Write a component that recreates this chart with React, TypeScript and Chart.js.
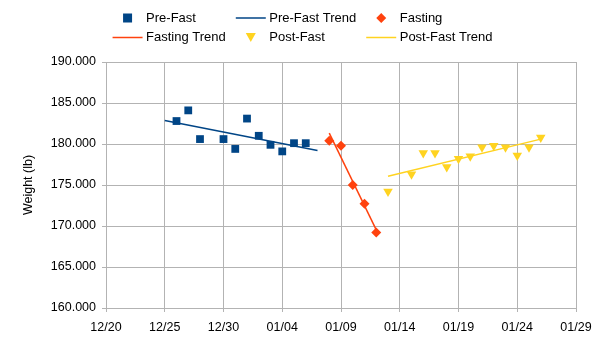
import React, { useEffect, useRef } from 'react';
import { Chart, registerables } from 'chart.js';

Chart.register(...registerables);

// ---------- data ----------
const xTickLabels = ['12/20', '12/25', '12/30', '01/04', '01/09', '01/14', '01/19', '01/24', '01/29'];
const axisStartDate = '12/20';
const axisEndDate = '01/29';

const preFastDates = ['12/26', '12/27', '12/28', '12/30', '12/31', '01/01', '01/02', '01/03', '01/04', '01/05', '01/06'];
const preFastWeights = [182.8, 184.1, 180.6, 180.6, 179.4, 183.1, 181.0, 179.9, 179.1, 180.1, 180.1];
const preFastTrendSpan = ['12/25', '01/07'];

const fastingDates = ['01/08', '01/09', '01/10', '01/11', '01/12'];
const fastingWeights = [180.4, 179.8, 175.0, 172.7, 169.2];
const fastingTrendSpan = ['01/08', '01/12'];

const postFastDates = ['01/13', '01/15', '01/16', '01/17', '01/18', '01/19', '01/20', '01/21', '01/22', '01/23', '01/24', '01/25', '01/26'];
const postFastWeights = [174.2, 176.3, 178.9, 178.9, 177.2, 178.2, 178.5, 179.6, 179.8, 179.6, 178.6, 179.6, 180.8];
const postFastTrendSpan = ['01/13', '01/26'];

const yMin = 160;
const yMax = 190;
const yStep = 5;

// ---------- helpers ----------
const FONT = "'Liberation Sans', Arial, sans-serif";
const BLUE = '#004586';
const ORANGE = '#ff420e';
const YELLOW = '#ffd320';
const GRID = '#b3b3b3';

function dayIndex(mmdd: string): number {
  const [m, d] = mmdd.split('/').map((s) => parseInt(s, 10));
  const year = m === 12 ? 2023 : 2024;
  const base = Date.UTC(2023, 11, 20);
  return Math.round((Date.UTC(year, m - 1, d) - base) / 86400000);
}

function points(dates: string[], values: number[]) {
  return dates.map((d, i) => ({ x: dayIndex(d), y: values[i] }));
}

function trend(dates: string[], values: number[], span: string[]) {
  const xs = dates.map(dayIndex);
  const n = xs.length;
  const mx = xs.reduce((a, b) => a + b, 0) / n;
  const my = values.reduce((a, b) => a + b, 0) / n;
  let sxy = 0;
  let sxx = 0;
  for (let i = 0; i < n; i++) {
    sxy += (xs[i] - mx) * (values[i] - my);
    sxx += (xs[i] - mx) * (xs[i] - mx);
  }
  const slope = sxy / sxx;
  const icpt = my - slope * mx;
  return span.map((s) => {
    const x = dayIndex(s);
    return { x, y: icpt + slope * x };
  });
}

// ---------- legend plugin ----------
const gridLegend = {
  id: 'gridLegend',
  afterDraw(chart: any) {
    const ctx = chart.ctx as CanvasRenderingContext2D;
    const datasets = chart.data.datasets as any[];
    ctx.save();
    ctx.font = `13px ${FONT}`;
    const cols = 3;
    const boxW = 30;
    const textGap = 3.5;
    const colGap = 10;
    const widths = [0, 0, 0];
    datasets.forEach((ds, i) => {
      const c = i % cols;
      widths[c] = Math.max(widths[c], boxW + textGap + ctx.measureText(ds.label).width);
    });
    const total = widths.reduce((a, b) => a + b, 0) + colGap * (cols - 1);
    const startX = (chart.width - total) / 2;
    const colX: number[] = [];
    let acc = startX;
    for (let c = 0; c < cols; c++) {
      colX.push(acc);
      acc += widths[c] + colGap;
    }
    const firstRowY = 18;
    const rowH = 19.5;
    datasets.forEach((ds, i) => {
      const c = i % cols;
      const r = Math.floor(i / cols);
      const x = colX[c];
      const cy = firstRowY + r * rowH;
      const cx = x + boxW / 2;
      const kind = ds.legendKind;
      ctx.fillStyle = ds.legendColor;
      ctx.strokeStyle = ds.legendColor;
      if (kind === 'line') {
        ctx.lineWidth = 1.5;
        ctx.beginPath();
        ctx.moveTo(x, cy);
        ctx.lineTo(x + boxW, cy);
        ctx.stroke();
      } else if (kind === 'rect') {
        ctx.fillRect(cx - 4.5, cy - 4.5, 9, 9);
      } else if (kind === 'diamond') {
        ctx.beginPath();
        ctx.moveTo(cx, cy - 5);
        ctx.lineTo(cx + 5, cy);
        ctx.lineTo(cx, cy + 5);
        ctx.lineTo(cx - 5, cy);
        ctx.closePath();
        ctx.fill();
      } else if (kind === 'triangleDown') {
        ctx.beginPath();
        ctx.moveTo(cx - 5, cy - 4.5);
        ctx.lineTo(cx + 5, cy - 4.5);
        ctx.lineTo(cx, cy + 4.5);
        ctx.closePath();
        ctx.fill();
      }
      ctx.fillStyle = '#000';
      ctx.textAlign = 'left';
      ctx.textBaseline = 'middle';
      ctx.fillText(ds.label, x + boxW + textGap, cy);
    });
    ctx.restore();
  },
};

export default function App() {
  const ref = useRef<HTMLCanvasElement | null>(null);

  useEffect(() => {
    if (!ref.current) return;
    const chart = new Chart(ref.current, {
      type: 'scatter',
      data: {
        datasets: [
          {
            label: 'Pre-Fast',
            data: points(preFastDates, preFastWeights),
            backgroundColor: BLUE,
            borderColor: BLUE,
            pointStyle: 'rect',
            pointRadius: 5.5,
            pointBorderWidth: 0,
            legendKind: 'rect',
            legendColor: BLUE,
          } as any,
          {
            label: 'Pre-Fast Trend',
            data: trend(preFastDates, preFastWeights, preFastTrendSpan),
            showLine: true,
            borderColor: BLUE,
            borderWidth: 1.5,
            pointRadius: 0,
            legendKind: 'line',
            legendColor: BLUE,
          } as any,
          {
            label: 'Fasting',
            data: points(fastingDates, fastingWeights),
            backgroundColor: ORANGE,
            borderColor: ORANGE,
            pointStyle: 'rectRot',
            pointRadius: 5,
            pointBorderWidth: 0,
            legendKind: 'diamond',
            legendColor: ORANGE,
          } as any,
          {
            label: 'Fasting Trend',
            data: trend(fastingDates, fastingWeights, fastingTrendSpan),
            showLine: true,
            borderColor: ORANGE,
            borderWidth: 1.5,
            pointRadius: 0,
            legendKind: 'line',
            legendColor: ORANGE,
          } as any,
          {
            label: 'Post-Fast',
            data: points(postFastDates, postFastWeights),
            backgroundColor: YELLOW,
            borderColor: YELLOW,
            pointStyle: 'triangle',
            rotation: 180,
            pointRadius: 5.5,
            pointBorderWidth: 0,
            legendKind: 'triangleDown',
            legendColor: YELLOW,
          } as any,
          {
            label: 'Post-Fast Trend',
            data: trend(postFastDates, postFastWeights, postFastTrendSpan),
            showLine: true,
            borderColor: YELLOW,
            borderWidth: 1.5,
            pointRadius: 0,
            legendKind: 'line',
            legendColor: YELLOW,
          } as any,
        ],
      },
      options: {
        responsive: false,
        animation: false,
        layout: { padding: { top: 62, right: 29, bottom: 0, left: 0 } },
        plugins: {
          legend: { display: false },
          tooltip: { enabled: false },
        },
        scales: {
          x: {
            type: 'linear',
            min: dayIndex(axisStartDate),
            max: dayIndex(axisEndDate),
            grid: { color: GRID, lineWidth: 1, tickLength: 4, tickColor: GRID },
            border: { color: GRID },
            ticks: {
              stepSize: 5,
              color: '#000',
              padding: 8,
              maxRotation: 0,
              font: { family: FONT, size: 12.5 },
              callback: (_v: any, i: number) => xTickLabels[i],
            },
            afterFit: (s: any) => {
              s.height = 33;
            },
          },
          y: {
            min: yMin,
            max: yMax,
            grid: { color: GRID, lineWidth: 1, tickLength: 4, tickColor: GRID },
            border: { color: GRID },
            ticks: {
              stepSize: yStep,
              color: '#000',
              padding: 6,
              font: { family: FONT, size: 12.5 },
              callback: (v: any) => Number(v).toFixed(3),
            },
            title: {
              display: true,
              text: 'Weight (lb)',
              color: '#000',
              font: { family: FONT, size: 12.5 },
              padding: { top: 21, bottom: 0 },
            },
            afterFit: (s: any) => {
              s.width = 106;
            },
          },
        },
      } as any,
      plugins: [gridLegend],
    });
    return () => chart.destroy();
  }, []);

  return (
    <div style={{ position: 'fixed', left: 0, top: 0, width: 605, height: 341, background: '#fff' }}>
      <canvas ref={ref} width={605} height={341} />
    </div>
  );
}
